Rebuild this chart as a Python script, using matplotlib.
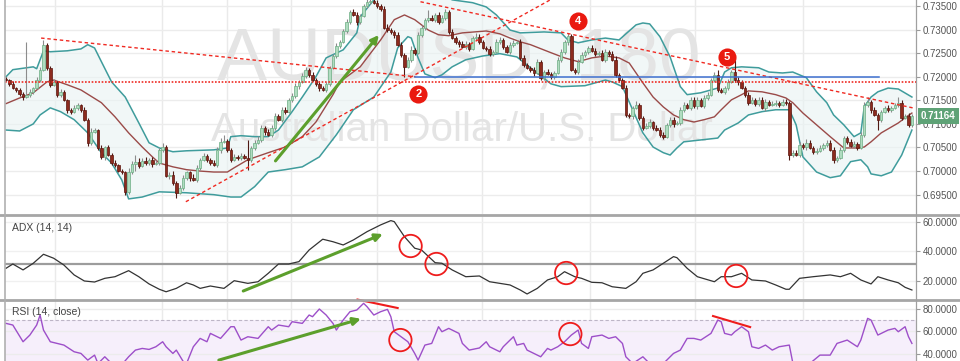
import numpy as np
import matplotlib
matplotlib.use("Agg")
import matplotlib.pyplot as plt
from matplotlib.lines import Line2D

# ---- AUD/USD 3h candles: close of each bar, open = previous close ----
first_open = 0.7195
closes = [
    0.7193, 0.7185, 0.7176, 0.7172, 0.7164, 0.7157, 0.7162, 0.7168, 0.7176, 0.7193,
    0.7215, 0.7268, 0.7219, 0.7183, 0.7189, 0.7162, 0.7168, 0.7151, 0.7130, 0.7126,
    0.7134, 0.7140, 0.7130, 0.7109, 0.7060, 0.7083, 0.7087, 0.7049, 0.7030, 0.7051,
    0.7034, 0.7017, 0.7013, 0.7000, 0.6998, 0.6956, 0.6998, 0.7015, 0.7020, 0.7011,
    0.7022, 0.7017,
    0.7024, 0.7015, 0.7017, 0.7045, 0.7051, 0.6990, 0.6992, 0.6975, 0.6954, 0.6964,
    0.6986, 0.6998, 0.6986, 0.6981, 0.7007, 0.7024, 0.7032, 0.7024, 0.7017, 0.7013,
    0.7045, 0.7062, 0.7064, 0.7045, 0.7024, 0.7030, 0.7028, 0.7032, 0.7028, 0.7024,
    0.7049, 0.7060, 0.7066, 0.7092, 0.7083, 0.7077, 0.7092, 0.7117, 0.7109, 0.7130,
    0.7126, 0.7151, 0.7159, 0.7181, 0.7189, 0.7202, 0.7215, 0.7204, 0.7193, 0.7185,
    0.7176, 0.7172, 0.7185, 0.7219, 0.7244, 0.7265, 0.7274, 0.7297, 0.7316, 0.7338,
    0.7331, 0.7316, 0.7329, 0.7350, 0.7359, 0.7361, 0.7357, 0.7350, 0.7344, 0.7304,
    0.7299, 0.7295, 0.7289, 0.7268, 0.7246, 0.7221, 0.7236, 0.7257, 0.7251, 0.7289,
    0.7304, 0.7321, 0.7325, 0.7321, 0.7331, 0.7316,
    0.7325, 0.7338, 0.7295, 0.7282, 0.7274, 0.7270, 0.7263, 0.7270, 0.7259, 0.7282,
    0.7285, 0.7274, 0.7261, 0.7259, 0.7249, 0.7253, 0.7274, 0.7278, 0.7263, 0.7253,
    0.7268, 0.7272, 0.7274, 0.7240, 0.7225, 0.7219, 0.7215, 0.7208, 0.7232, 0.7198,
    0.7210, 0.7206, 0.7200, 0.7208, 0.7236, 0.7253, 0.7274, 0.7287, 0.7215, 0.7210,
    0.7232, 0.7246, 0.7253, 0.7261, 0.7255, 0.7249,
    0.7251, 0.7236, 0.7253, 0.7249, 0.7236, 0.7204, 0.7193, 0.7176, 0.7119, 0.7117,
    0.7134, 0.7140, 0.7113, 0.7092, 0.7096, 0.7104, 0.7092, 0.7087, 0.7077, 0.7073,
    0.7098, 0.7109, 0.7100, 0.7102, 0.7130, 0.7140, 0.7134, 0.7151, 0.7138, 0.7151,
    0.7138, 0.7155, 0.7162, 0.7193, 0.7204, 0.7172, 0.7168, 0.7176, 0.7189, 0.7210,
    0.7193, 0.7189, 0.7176, 0.7162, 0.7145,
    0.7151, 0.7143, 0.7151, 0.7134, 0.7147, 0.7141, 0.7143, 0.7145, 0.7140, 0.7147,
    0.7145, 0.7034, 0.7039, 0.7034, 0.7056, 0.7051, 0.7060, 0.7049, 0.7041, 0.7043,
    0.7049, 0.7056, 0.7060, 0.7045, 0.7024, 0.7028, 0.7045, 0.7070, 0.7062, 0.7053,
    0.7058, 0.7049, 0.7077, 0.7140, 0.7147, 0.7130, 0.7119, 0.7109, 0.7126, 0.7134,
    0.7130, 0.7134, 0.7140, 0.7145, 0.7113, 0.7117, 0.7098, 0.71164,
]
# wick length beyond the body, in pips (0.0001), ten bars per row
wick_up = [
    4, 3, 5, 2, 4, 3, 112, 5, 3, 6,
    5, 10, 3, 4, 7, 3, 5, 4, 2, 4,
    6, 4, 3, 6, 4, 9, 5, 3, 7, 3,
    5, 4, 6, 3, 5, 3, 8, 6, 15, 7,
    5, 7, 4, 5, 6, 3, 9, 4, 6, 8,
    4, 6, 5, 3, 3, 7, 5, 4, 7, 5,
    4, 6, 5, 8, 13, 5, 3, 6, 5, 7,
    4, 38, 5, 6, 9, 5, 4, 7, 5, 6,
    4, 6, 5, 3, 6, 5, 4, 6, 5, 3,
    5, 4, 6, 5, 4, 3, 5, 6, 4, 5,
    6, 4, 5, 7, 3, 5, 6, 4, 5, 6,
    4, 5, 7, 4, 5, 6, 5, 4, 6, 8,
    4, 6, 5, 4, 17, 5, 4, 6, 6, 5,
    4, 7, 5, 3, 5, 6, 4, 5, 7, 5,
    4, 5, 6, 3, 5, 6, 5, 4, 6, 5,
    3, 5, 7, 5, 4, 6, 5, 3, 5, 6,
    4, 5, 6, 5, 4, 6, 4, 4, 5, 6,
    4, 5, 6, 5, 3, 6, 5, 4, 5, 7,
    4, 5, 6, 5, 4, 8, 5, 4, 5, 6,
    3, 5, 7, 5, 4, 6, 5, 4, 5, 6,
    4, 5, 7, 5, 4, 6, 5, 4, 5, 11,
    4, 5, 6, 5, 28, 6, 5, 4, 5, 6,
    4, 6, 5, 5, 4, 6, 5, 3, 5, 6,
    4, 5, 6, 5, 4, 7, 5, 4, 5, 6,
    4, 5, 6, 5, 3, 6, 5, 4, 5, 6,
    4, 5, 6, 10, 4, 6, 5, 4, 5, 6,
    4, 5, 12, 5, 4, 6, 5,
]
wick_down = [
    3, 4, 3, 5, 4, 6, 3, 4, 5, 3,
    4, 3, 5, 4, 3, 5, 4, 3, 6, 4,
    3, 5, 4, 3, 6, 4, 3, 5, 4, 6,
    3, 4, 5, 3, 4, 6, 4, 5, 15, 4,
    3, 5, 4, 6, 3, 4, 5, 3, 6, 4,
    11, 3, 5, 4, 6, 3, 4, 5, 3, 4,
    5, 3, 4, 6, 3, 5, 4, 3, 5, 4,
    3, 21, 4, 5, 3, 4, 6, 3, 5, 4,
    3, 5, 4, 3, 5, 4, 6, 3, 4, 5,
    3, 4, 6, 3, 5, 4, 3, 5, 4, 3,
    5, 4, 3, 6, 4, 3, 5, 4, 3, 5,
    4, 3, 5, 4, 6, 3, 4, 21, 3, 5,
    4, 3, 5, 4, 6, 3, 4, 5, 3, 4,
    5, 3, 4, 6, 3, 5, 4, 3, 5, 4,
    3, 5, 4, 6, 3, 4, 5, 3, 4, 5,
    3, 4, 5, 3, 4, 6, 3, 5, 4, 3,
    5, 4, 3, 5, 4, 6, 3, 4, 5, 3,
    4, 5, 3, 4, 6, 3, 5, 4, 3, 5,
    4, 3, 5, 4, 6, 3, 4, 5, 3, 4,
    5, 3, 4, 5, 3, 4, 6, 3, 5, 4,
    3, 5, 4, 6, 3, 4, 5, 3, 4, 5,
    3, 4, 5, 3, 4, 6, 3, 5, 4, 3,
    4, 5, 3, 6, 4, 3, 5, 4, 3, 5,
    10, 4, 3, 5, 4, 6, 3, 4, 5, 3,
    4, 5, 3, 6, 4, 3, 5, 4, 3, 5,
    4, 3, 5, 4, 6, 3, 22, 5, 3, 4,
    5, 3, 4, 5, 3, 4, 5,
]

# ---- Bollinger bands (bar index, price) ----
bb_up_bar = [0, 2, 8, 9, 11, 13, 18, 22, 24, 26, 28, 31, 35, 39, 42, 45, 49, 53, 61, 65,
             66, 69, 73, 77, 80, 84, 87, 91, 94, 99, 103, 104, 108, 113, 119, 125, 131, 137, 141, 144,
             148, 151, 158, 163, 165, 168, 172, 176, 180, 185, 187, 189, 192, 195, 198, 200, 204, 209, 211, 213,
             216, 221, 224, 228, 231, 235, 238, 241, 243, 246, 249, 251, 252, 254, 256, 259, 262, 266]
bb_up = [0.7200, 0.7215, 0.7221, 0.7217, 0.7255, 0.7253, 0.7255, 0.7259, 0.7268, 0.7261,
         0.7232, 0.7189, 0.7157, 0.7102, 0.7060, 0.7049, 0.7041, 0.7043, 0.7045, 0.7049,
         0.7073, 0.7075, 0.7073, 0.7073, 0.7087, 0.7126, 0.7157, 0.7200, 0.7240, 0.7257,
         0.7293, 0.7327, 0.7363, 0.7388, 0.7380, 0.7388, 0.7363, 0.7357, 0.7348, 0.7331,
         0.7299, 0.7293, 0.7295, 0.7293, 0.7278, 0.7272, 0.7278, 0.7282, 0.7278, 0.7310,
         0.7314, 0.7312, 0.7285, 0.7242, 0.7179, 0.7162, 0.7166, 0.7176, 0.7210, 0.7219,
         0.7221, 0.7219, 0.7210, 0.7208, 0.7210, 0.7198, 0.7168, 0.7145, 0.7119, 0.7098,
         0.7073, 0.7081, 0.7136, 0.7157, 0.7168, 0.7176, 0.7174, 0.7157]
bb_mid_bar = [0, 4, 8, 12, 14, 18, 22, 28, 32, 36, 40, 43, 45, 49, 53, 57, 61, 65, 67, 71,
              77, 82, 87, 91, 96, 98, 104, 110, 114, 117, 120, 124, 127, 130, 134, 141, 145, 148, 151, 154,
              160, 164, 168, 172, 176, 180, 183, 185, 187, 190, 193, 196, 199, 202, 205, 208, 210, 213, 216, 218,
              222, 226, 229, 231, 234, 238, 242, 246, 250, 252, 254, 257, 262, 264, 266]
bb_mid = [0.7143, 0.7155, 0.7166, 0.7189, 0.7193, 0.7183, 0.7172, 0.7145, 0.7115, 0.7081,
          0.7051, 0.7030, 0.7017, 0.7009, 0.7003, 0.7000, 0.6998, 0.6998, 0.7007, 0.7024,
          0.7039, 0.7051, 0.7073, 0.7104, 0.7162, 0.7189, 0.7221, 0.7278, 0.7321, 0.7331,
          0.7321, 0.7299, 0.7289, 0.7287, 0.7293, 0.7297, 0.7291, 0.7282, 0.7274, 0.7268,
          0.7251, 0.7240, 0.7232, 0.7240, 0.7244, 0.7240, 0.7229, 0.7208, 0.7187, 0.7157,
          0.7136, 0.7119, 0.7109, 0.7104, 0.7109, 0.7115, 0.7130, 0.7151, 0.7162, 0.7170,
          0.7168, 0.7162, 0.7155, 0.7145, 0.7123, 0.7098, 0.7073, 0.7049, 0.7049, 0.7051,
          0.7062, 0.7081, 0.7102, 0.7113, 0.7123]
bb_lo_bar = [0, 4, 8, 10, 13, 16, 20, 24, 28, 31, 34, 36, 40, 45, 53, 61, 66, 69, 73, 77,
             82, 87, 92, 97, 102, 108, 113, 115, 118, 119, 121, 123, 126, 128, 131, 135, 140, 145, 150, 154,
             157, 160, 163, 170, 176, 178, 181, 184, 187, 190, 193, 195, 197, 199, 204, 209, 211, 215, 218, 222,
             226, 230, 232, 234, 238, 242, 245, 248, 251, 253, 254, 257, 260, 263, 266]
bb_lo = [0.7087, 0.7085, 0.7100, 0.7119, 0.7134, 0.7126, 0.7109, 0.7081, 0.7039, 0.7017,
         0.6981, 0.6941, 0.6945, 0.6956, 0.6954, 0.6950, 0.6945, 0.6945, 0.6967, 0.6998,
         0.7003, 0.7009, 0.7030, 0.7077, 0.7130, 0.7157, 0.7210, 0.7261, 0.7285, 0.7282,
         0.7240, 0.7206, 0.7198, 0.7204, 0.7221, 0.7236, 0.7244, 0.7249, 0.7242, 0.7219,
         0.7202, 0.7185, 0.7179, 0.7181, 0.7193, 0.7189, 0.7179, 0.7130, 0.7081, 0.7051,
         0.7039, 0.7034, 0.7049, 0.7062, 0.7066, 0.7070, 0.7087, 0.7102, 0.7119, 0.7126,
         0.7130, 0.7130, 0.7098, 0.7030, 0.6998, 0.6986, 0.6990, 0.7020, 0.7024, 0.7009,
         0.6994, 0.6990, 0.6998, 0.7034, 0.7087]

# ---- ADX (14, 14) ----
adx_bar = [0, 2, 5, 8, 11, 14, 17, 20, 23, 26, 29, 32, 36, 39, 42, 45, 47, 50, 53, 55,
           57, 60, 64, 67, 71, 74, 77, 80, 83, 86, 89, 93, 96, 99, 102, 106, 110, 113, 114, 117,
           120, 122, 126, 128, 131, 135, 139, 142, 145, 148, 151, 153, 156, 159, 162, 164, 167, 169, 172, 175,
           178, 182, 185, 187, 190, 193, 196, 197, 200, 203, 208, 210, 213, 216, 219, 223, 226, 229, 230, 233,
           237, 242, 245, 248, 251, 254, 256, 259, 262, 264, 266]
adx = [28.4, 31.3, 27.3, 31.8, 37.9, 35.2, 30.6, 23.9, 19.8, 19.1,
       21.6, 22.7, 26.8, 22.7, 17.8, 14.2, 12.5, 14.8, 18.6, 17.1,
       14.8, 16.4, 14.8, 20.0, 18.2, 19.3, 25.0, 31.3, 31.3, 32.9,
       40.8, 48.1, 46.4, 44.2, 47.6, 53.2, 57.8, 60.7, 60.0, 49.8,
       42.0, 40.8, 32.2, 31.8, 27.3, 22.7, 23.2, 19.3, 18.2, 17.1,
       13.7, 11.0, 14.8, 20.5, 22.7, 26.1, 22.7, 21.6, 18.9, 18.6,
       15.9, 14.8, 19.3, 25.0, 27.3, 31.8, 36.3, 35.6, 28.4, 22.7,
       19.3, 22.7, 22.7, 25.0, 20.5, 19.8, 17.1, 14.2, 14.2, 21.6,
       22.7, 23.9, 22.7, 25.0, 20.5, 17.8, 22.7, 20.5, 18.6, 15.5, 13.7]
adx_level = 31

# ---- RSI (14, close) ----
rsi_bar = [0, 2, 5, 7, 9, 10, 11, 13, 15, 17, 20, 22, 24, 26, 27, 29, 31, 34, 36, 38,
           40, 42, 44, 46, 47, 49, 50, 52, 53, 55, 57, 59, 60, 63, 66, 67, 69, 71, 74, 77,
           78, 80, 83, 84, 87, 89, 90, 92, 94, 96, 97, 99, 101, 103, 105, 106, 108, 110, 112, 113,
           114, 116, 118, 120, 121, 123, 125, 127, 128, 130, 133, 134, 136, 139, 141, 142, 143, 145, 146, 149,
           150, 152, 153, 155, 157, 159, 160, 162, 164, 166, 168, 169, 171, 172, 175, 177, 179, 181, 182, 184,
           187, 189, 193, 196, 198, 200, 202, 204, 207, 209, 210, 211, 213, 214, 216, 218, 219, 221, 223, 225,
           227, 230, 231, 233, 236, 239, 242, 244, 247, 250, 251, 253, 254, 256, 259, 261, 262, 264, 265, 266]
rsi = [67.1, 65.6, 50.6, 56.6, 65.6, 74.6, 61.1, 50.6, 49.1, 47.6,
       41.6, 40.1, 34.1, 38.6, 31.0, 37.1, 31.0, 30.0, 37.1, 43.1,
       44.6, 43.7, 46.1, 50.6, 46.1, 40.1, 43.1, 33.0, 31.0, 46.1,
       53.6, 50.6, 58.1, 53.6, 64.1, 64.1, 52.1, 55.1, 53.6, 64.1,
       61.1, 65.6, 64.1, 68.6, 67.1, 74.6, 73.1, 80.0, 74.6, 67.1,
       61.1, 70.1, 77.6, 79.1, 85.1, 82.1, 74.6, 77.6, 79.7, 73.1,
       59.6, 55.1, 50.6, 40.1, 34.1, 47.6, 49.1, 64.1, 59.6, 62.6,
       58.1, 49.1, 43.1, 45.0, 50.6, 46.1, 44.6, 41.6, 46.1, 55.1,
       47.6, 49.1, 43.1, 40.1, 37.1, 44.6, 43.1, 46.1, 50.6, 56.6,
       61.1, 49.1, 44.6, 55.1, 56.6, 53.6, 55.1, 49.1, 37.1, 31.0,
       37.1, 31.0, 31.0, 40.1, 43.1, 53.6, 53.6, 52.1, 58.1, 70.1,
       68.6, 58.1, 56.6, 59.6, 64.1, 59.6, 46.1, 44.6, 47.6, 43.1,
       46.1, 47.6, 32.0, 31.0, 31.0, 38.6, 38.6, 49.1, 52.1, 46.1,
       52.1, 71.6, 70.1, 56.6, 61.1, 62.6, 59.6, 64.1, 55.1, 49.1]

# ---- drawn annotations (bar, price / indicator value) ----
down_line_1 = ([10.3, 120.2], [0.7282, 0.7200])
up_line = ([52.8, 159.8], [0.6935, 0.7363])
down_line_2 = ([121.7, 266.9], [0.7359, 0.7133])
resistance = 0.7189
blue_level = (120.2, 256.3, 0.7199)
points = [(121.1, 0.7164, "2"), (168.0, 0.7318, "4"), (211.7, 0.7242, "5")]
adx_circles = [(118.8, 43.5), (126.4, 31.3), (164.5, 25.2), (214.4, 23.2)]
rsi_circles = [(115.8, 52.1), (165.7, 57.5)]
rsi_red_lines = [([103.2, 115.0], [88.5, 80.9]), ([207.6, 218.5], [73.7, 63.8])]
time_grid = [14.4, 45.7, 64.8, 83.6, 108.8, 139.9, 171.6, 202.3, 234.0]

W, H = 960, 361
fig = plt.figure(figsize=(W / 100, H / 100), dpi=100)
plt.rcParams['font.family'] = ['Liberation Sans', 'DejaVu Sans']


def box(l, t, r, b):
    return [l / W, 1 - b / H, (r - l) / W, (b - t) / H]


ax = fig.add_axes(box(5, 0, 916, 214))
ax_adx = fig.add_axes(box(5, 215, 916, 299), sharex=ax)
ax_rsi = fig.add_axes(box(5, 300, 916, 361), sharex=ax)

for a in (ax, ax_adx, ax_rsi):
    for s in a.spines.values():
        s.set_visible(False)
    a.yaxis.tick_right()
    a.tick_params(axis='y', labelsize=7, labelcolor='#555555', color='#9a9a9a',
                  length=3, width=0.8, pad=2)
    a.tick_params(axis='x', bottom=False, labelbottom=False)
    for g in time_grid:
        a.axvline(g, color='#eaeaea', lw=1, zorder=0)

# ---- price panel ----
ax.set_xlim(-0.3, 267.2)
ax.set_ylim(0.6909, 0.73627)
ticks = [0.695, 0.700, 0.705, 0.710, 0.715, 0.720, 0.725, 0.730, 0.735]
ax.set_yticks(ticks)
ax.set_yticklabels([f"{t:.5f}" for t in ticks])
for t in ticks:
    ax.axhline(t, color='#ececec', lw=1, zorder=0)

ax.text(0.498, 0.718, "AUDUSD, 180", transform=ax.transAxes, ha='center', va='center',
        fontsize=54, color='#e4e4e4', zorder=1)
ax.text(0.502, 0.393, "Australian Dollar/U.S. Dollar", transform=ax.transAxes,
        ha='center', va='center', fontsize=29, color='#e4e4e4', zorder=1)

ax.fill(np.concatenate([bb_up_bar, bb_lo_bar[::-1]]),
        np.concatenate([bb_up, bb_lo[::-1]]), color='#e9f3f3', alpha=0.6, lw=0, zorder=0.5)
ax.plot(bb_up_bar, bb_up, color='#3f9c9c', lw=1.1, zorder=2)
ax.plot(bb_lo_bar, bb_lo, color='#3f9c9c', lw=1.1, zorder=2)
ax.plot(bb_mid_bar, bb_mid, color='#9a4a48', lw=1.0, zorder=2)

c = np.array(closes)
o = np.array([first_open] + closes[:-1])
x = np.arange(len(c))
top = np.maximum(o, c)
bot = np.minimum(o, c)
hi = top + np.array(wick_up) * 1e-4
lo = bot - np.array(wick_down) * 1e-4
rise = c >= o
body = np.maximum(top - bot, 0.00007)
ax.vlines(x[rise], lo[rise], hi[rise], color='#8c8c8c', lw=0.8, zorder=3)
ax.vlines(x[~rise], lo[~rise], hi[~rise], color='#4e1a14', lw=0.8, zorder=3)
ax.bar(x[rise], body[rise], bottom=bot[rise], width=0.72, color='#b0dcc0',
       edgecolor='#6cad84', lw=0.5, zorder=4)
ax.bar(x[~rise], body[~rise], bottom=bot[~rise], width=0.72, color='#8d2b1e',
       edgecolor='#5c150d', lw=0.5, zorder=4)

red = '#f02a22'
for xs, ys in (down_line_1, up_line, down_line_2):
    ax.plot(xs, ys, color=red, lw=1.0, ls=(0, (2.5, 2)), zorder=5)
ax.axhline(resistance, color=red, lw=1.2, ls=(0, (1, 1)), zorder=5)
ax.plot(blue_level[:2], [blue_level[2]] * 2, color='#3d6fcf', lw=1.1, zorder=5)

ax.annotate('', xy=(110.0, 0.7293), xytext=(78.6, 0.7017),
            arrowprops=dict(arrowstyle='-|>', color='#5c9f2c', lw=2.2, mutation_scale=11), zorder=6)

for bx, by, lab in points:
    ax.scatter([bx], [by], s=170, color='#ea1a10', zorder=7, lw=0)
    ax.text(bx, by, lab, color='white', fontsize=8, fontweight='bold',
            ha='center', va='center', zorder=8)

ax.annotate(f"{closes[-1]:.5f}", xy=(1, closes[-1]), xycoords=('axes fraction', 'data'),
            xytext=(3.5, 0), textcoords='offset points', ha='left', va='center',
            color='white', fontsize=7, fontweight='bold', annotation_clip=False,
            bbox=dict(boxstyle='square,pad=0.3', fc='#5ea276', ec='none'))

# ---- ADX panel ----
ax_adx.set_ylim(7.6, 64.5)
ax_adx.set_yticks([20, 40, 60])
ax_adx.set_yticklabels(["20.0000", "40.0000", "60.0000"])
for t in (20, 40, 60):
    ax_adx.axhline(t, color='#f0f0f0', lw=1, zorder=0)
ax_adx.axhline(adx_level, color='#9c9c9c', lw=1.6, zorder=1)
ax_adx.plot(adx_bar, adx, color='#333333', lw=0.9, zorder=2)
ax_adx.text(0.008, 0.845, "ADX (14, 14)", transform=ax_adx.transAxes, fontsize=7.5,
            color='#444444', va='center')
ax_adx.annotate('', xy=(111.4, 52.3), xytext=(68.9, 12.3),
                arrowprops=dict(arrowstyle='-|>', color='#5c9f2c', lw=2.2, mutation_scale=11))
for cx, cy in adx_circles:
    ax_adx.scatter([cx], [cy], s=260, facecolors='none', edgecolors='#ee1c1c', lw=1.3, zorder=4)

# ---- RSI panel ----
ax_rsi.set_ylim(33.3, 88.1)
ax_rsi.set_yticks([40, 60, 80])
ax_rsi.set_yticklabels(["40.0000", "60.0000", "80.0000"])
ax_rsi.axhspan(30, 70, color='#f6effb', lw=0, zorder=0)
for t in (40, 60, 80):
    ax_rsi.axhline(t, color='#ececec', lw=1, zorder=0.5)
ax_rsi.axhline(70, color='#bdb5c6', lw=0.8, ls=(0, (3, 2)), zorder=1)
ax_rsi.plot(rsi_bar, rsi, color='#9d4fc9', lw=1.0, zorder=2)
ax_rsi.text(0.008, 0.80, "RSI (14, close)", transform=ax_rsi.transAxes, fontsize=7.5,
            color='#444444', va='center')
ax_rsi.annotate('', xy=(105.0, 71.9), xytext=(61.7, 33.4),
                arrowprops=dict(arrowstyle='-|>', color='#5c9f2c', lw=2.2, mutation_scale=11))
for xs, ys in rsi_red_lines:
    ax_rsi.plot(xs, ys, color='#ee1c1c', lw=1.5, zorder=4, clip_on=False)
for cx, cy in rsi_circles:
    ax_rsi.scatter([cx], [cy], s=260, facecolors='none', edgecolors='#ee1c1c', lw=1.3, zorder=4)

# frame lines
for yy in (214.5, 299.5):
    fig.add_artist(Line2D([0, 1], [1 - yy / H] * 2, transform=fig.transFigure,
                          color='#a6a6a6', lw=2))
fig.add_artist(Line2D([916 / W] * 2, [0, 1], transform=fig.transFigure, color='#a0a0a0', lw=0.9))
fig.add_artist(Line2D([4.5 / W] * 2, [0, 1], transform=fig.transFigure, color='#b0b0b0', lw=1.2))

fig.savefig("out.png", dpi=100)
